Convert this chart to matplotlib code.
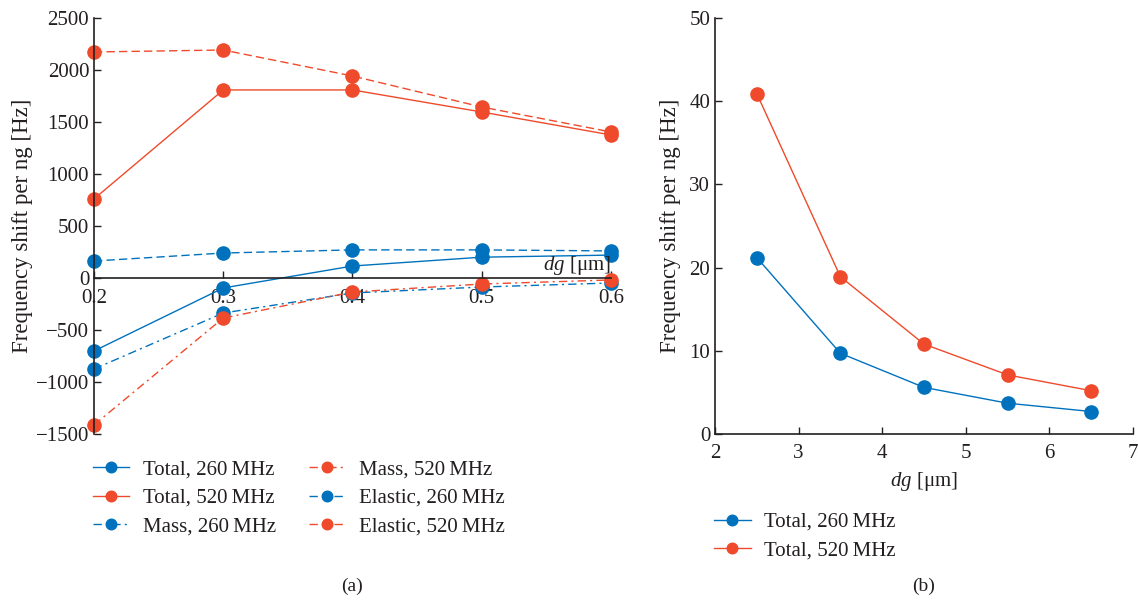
import matplotlib.pyplot as plt
import numpy as np

plt.rcParams['font.family'] = ['Liberation Serif', 'DejaVu Serif']
plt.rcParams['mathtext.fontset'] = 'custom'
plt.rcParams['mathtext.it'] = 'Liberation Serif:italic'
plt.rcParams['mathtext.rm'] = 'Liberation Serif'

BLUE = '#0072BD'
RED = '#EF4A2B'
TXT = '#231F20'

# (a) gap sweep
dg_a = [0.2, 0.3, 0.4, 0.5, 0.6]
total_260 = [-702, -96, 115, 200, 220]
total_520 = [760, 1808, 1808, 1596, 1375]
mass_260 = [-875, -337, -144, -87, -48]
mass_520 = [-1413, -385, -135, -58, -19]
elastic_260 = [163, 240, 270, 270, 260]
elastic_520 = [2173, 2192, 1942, 1644, 1404]

# (b)
dg_b = [2.5, 3.5, 4.5, 5.5, 6.5]
total_260_b = [21.2, 9.7, 5.6, 3.7, 2.7]
total_520_b = [40.9, 18.9, 10.8, 7.1, 5.2]

fig = plt.figure(figsize=(11.38, 6.01), dpi=100)
ax1 = fig.add_axes([0.0826, 0.2779, 0.4543, 0.6922])
ax2 = fig.add_axes([0.6283, 0.2779, 0.3673, 0.6922])

ms = 9.5
lw = 1.0
dashdot = (0, (6, 3, 1.5, 3))
dashed = (0, (6, 3))

ax1.plot(dg_a, total_260, color=BLUE, marker='o', ms=ms, lw=lw, clip_on=False, label='Total, 260\u2009MHz')
ax1.plot(dg_a, total_520, color=RED, marker='o', ms=ms, lw=lw, clip_on=False, label='Total, 520\u2009MHz')
ax1.plot(dg_a, mass_260, color=BLUE, marker='o', ms=ms, lw=lw, ls=dashdot, clip_on=False, label='Mass, 260\u2009MHz')
ax1.plot(dg_a, mass_520, color=RED, marker='o', ms=ms, lw=lw, ls=dashdot, clip_on=False, label='Mass, 520\u2009MHz')
ax1.plot(dg_a, elastic_260, color=BLUE, marker='o', ms=ms, lw=lw, ls=dashed, clip_on=False, label='Elastic, 260\u2009MHz')
ax1.plot(dg_a, elastic_520, color=RED, marker='o', ms=ms, lw=lw, ls=dashed, clip_on=False, label='Elastic, 520\u2009MHz')

ax1.set_xlim(0.2, 0.6)
ax1.set_ylim(-1500, 2500)
ax1.set_xticks(dg_a)
ax1.set_xticklabels(['0.2', '0.3', '0.4', '0.5', '0.6'])
ax1.set_yticks(np.arange(-1500, 2501, 500))
ax1.set_yticklabels([str(v).replace('-', '\u2212') for v in range(-1500, 2501, 500)])
ax1.spines['bottom'].set_position(('data', 0))
ax1.spines['top'].set_visible(False)
ax1.spines['right'].set_visible(False)
ax1.set_ylabel('Frequency shift per ng [Hz]', fontsize=16.5, color=TXT, labelpad=2)
ax1.text(0.6, 8, r'$dg$ [μm]', ha='right', va='bottom', fontsize=15, color=TXT)
ax1.text(0.5, -0.345, '(a)', transform=ax1.transAxes, ha='center', va='top', fontsize=14, color=TXT)

ax2.plot(dg_b, total_260_b, color=BLUE, marker='o', ms=ms, lw=lw, clip_on=False, label='Total, 260\u2009MHz')
ax2.plot(dg_b, total_520_b, color=RED, marker='o', ms=ms, lw=lw, clip_on=False, label='Total, 520\u2009MHz')
ax2.set_xlim(2, 7)
ax2.set_ylim(0, 50)
ax2.set_xticks(range(2, 8))
ax2.set_yticks(range(0, 51, 10))
ax2.spines['top'].set_visible(False)
ax2.spines['right'].set_visible(False)
ax2.set_xlabel(r'$dg$ [μm]', fontsize=15, color=TXT, labelpad=5)
ax2.set_ylabel('Frequency shift per ng [Hz]', fontsize=16.5, color=TXT, labelpad=6)
ax2.text(0.5, -0.345, '(b)', transform=ax2.transAxes, ha='center', va='top', fontsize=14, color=TXT)

for ax in (ax1, ax2):
    ax.tick_params(direction='in', length=5, width=1, labelsize=15, colors=TXT)
    for s in ('left', 'bottom'):
        ax.spines[s].set_linewidth(1.2)
        ax.spines[s].set_color(TXT)
ax2.tick_params(axis='x', pad=7)
ax1.tick_params(axis='x', pad=8)

fig.legend(*ax1.get_legend_handles_labels(), loc='upper left', bbox_to_anchor=(0.065, 0.266),
           ncol=2, frameon=False, fontsize=15, markerscale=0.8, handlelength=1.75,
           columnspacing=1.57, labelspacing=0.42, handletextpad=0.65, labelcolor=TXT)
ax2.legend(loc='upper left', bbox_to_anchor=(-0.047, -0.143), frameon=False, fontsize=15,
           markerscale=0.8, handlelength=1.75, labelspacing=0.42, handletextpad=0.65, labelcolor=TXT)

fig.savefig('out.png', dpi=100)
